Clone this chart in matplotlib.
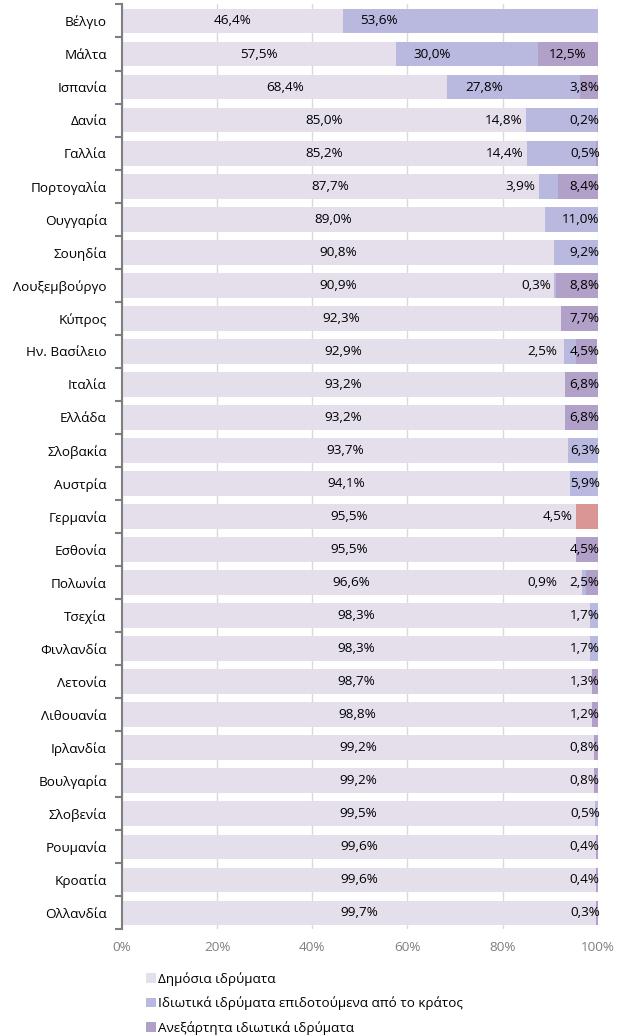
import matplotlib
matplotlib.use("Agg")
import matplotlib.pyplot as plt
import numpy as np

plt.rcParams['font.family'] = ['Open Sans', 'DejaVu Sans']

# data (% of students by type of institution)
countries = ["Βέλγιο", "Μάλτα", "Ισπανία", "Δανία", "Γαλλία", "Πορτογαλία",
             "Ουγγαρία", "Σουηδία", "Λουξεμβούργο", "Κύπρος", "Ην. Βασίλειο",
             "Ιταλία", "Ελλάδα", "Σλοβακία", "Αυστρία", "Γερμανία", "Εσθονία",
             "Πολωνία", "Τσεχία", "Φινλανδία", "Λετονία", "Λιθουανία",
             "Ιρλανδία", "Βουλγαρία", "Σλοβενία", "Ρουμανία", "Κροατία",
             "Ολλανδία"]
public = [46.4, 57.5, 68.4, 85.0, 85.2, 87.7, 89.0, 90.8, 90.9, 92.3, 92.9,
          93.2, 93.2, 93.7, 94.1, 95.5, 95.5, 96.6, 98.3, 98.3, 98.7, 98.8,
          99.2, 99.2, 99.5, 99.6, 99.6, 99.7]
gov_dep = [53.6, 30.0, 27.8, 14.8, 14.4, 3.9, 11.0, 9.2, 0.3, 0, 2.5,
           0, 0, 6.3, 5.9, 0, 0, 0.9, 1.7, 1.7, 0, 0,
           0, 0, 0.5, 0, 0, 0]
indep = [0, 12.5, 3.8, 0.2, 0.5, 8.4, 0, 0, 8.8, 7.7, 4.5,
         6.8, 6.8, 0, 0, 0, 4.5, 2.5, 0, 0, 1.3, 1.2,
         0.8, 0.8, 0, 0.4, 0.4, 0.3]
other = [0] * 15 + [4.5] + [0] * 12   # Germany, not split

legend_labels = ["Δημόσια ιδρύματα",
                 "Ιδιωτικά ιδρύματα επιδοτούμενα από το κράτος",
                 "Ανεξάρτητα ιδιωτικά ιδρύματα"]

c_pub = "#e5dfec"
c_gov = "#b9b8df"
c_ind = "#b1a0c8"
c_oth = "#da9694"

def fmt(v):
    return f"{v:.1f}%".replace(".", ",")

fig = plt.figure(figsize=(6.22, 10.36), dpi=100)
ax = fig.add_axes([0.196, 0.1028, 0.765, 0.8929])

y = np.arange(len(countries))
pub = np.array(public)
gov = np.array(gov_dep)
ind = np.array(indep)
oth = np.array(other)
h = 0.75

ax.barh(y, pub, height=h, color=c_pub, label=legend_labels[0], zorder=2)
ax.barh(y, gov, left=pub, height=h, color=c_gov, label=legend_labels[1], zorder=2)
ax.barh(y, ind, left=pub + gov, height=h, color=c_ind, label=legend_labels[2], zorder=2)
ax.barh(y, oth, left=pub + gov + ind, height=h, color=c_oth, zorder=2)

fs = 9.7
for i in range(len(countries)):
    ax.text(pub[i] / 2, i, fmt(pub[i]), ha="center", va="center", fontsize=fs, zorder=3)
    if gov[i] > 0:
        start = pub[i]
        if gov[i] >= 20:
            ax.text(start + 3.7, i, fmt(gov[i]), ha="left", va="center", fontsize=fs, zorder=3)
        elif ind[i] > 0:
            # keep clear of the label at the right end
            ax.text(min(start - 0.8, 91.5), i, fmt(gov[i]), ha="right", va="center", fontsize=fs, zorder=3)
        else:
            ax.text(100.4, i, fmt(gov[i]), ha="right", va="center", fontsize=fs, zorder=3)
    if ind[i] > 0:
        if ind[i] >= 10:
            ax.text(pub[i] + gov[i] + ind[i] / 2, i, fmt(ind[i]), ha="center", va="center", fontsize=fs, zorder=3)
        else:
            ax.text(100.4, i, fmt(ind[i]), ha="right", va="center", fontsize=fs, zorder=3)
    if oth[i] > 0:
        ax.text(pub[i] - 0.8, i, fmt(oth[i]), ha="right", va="center", fontsize=fs, zorder=3)

ax.set_xlim(0, 100)
ax.set_ylim(len(countries) - 0.5, -0.5)
ax.set_xticks([0, 20, 40, 60, 80, 100])
ax.set_xticklabels(["0%", "20%", "40%", "60%", "80%", "100%"], color="#7f7f7f", fontsize=fs)
ax.xaxis.grid(True, color="#d9d9d9", linewidth=1, zorder=0)
ax.set_axisbelow(True)
ax.tick_params(axis="x", length=0, pad=8)

ax.set_yticks(y)
ax.set_yticklabels(countries, fontsize=fs)
ax.set_yticks(np.arange(len(countries) + 1) - 0.5, minor=True)
ax.tick_params(axis="y", which="major", length=0, pad=11)
ax.tick_params(axis="y", which="minor", length=5, width=1.5, color="#7f7f7f")

for s in ["top", "right", "bottom"]:
    ax.spines[s].set_visible(False)
ax.spines["left"].set_color("#7f7f7f")
ax.spines["left"].set_linewidth(1.5)

fig.legend(loc="upper left", bbox_to_anchor=(0.235, 0.062), ncol=1, frameon=False,
           fontsize=fs, handlelength=0.7, handleheight=0.7, handletextpad=0.2,
           labelspacing=0.8, borderaxespad=0, borderpad=0)

fig.savefig("out.png", dpi=100)
